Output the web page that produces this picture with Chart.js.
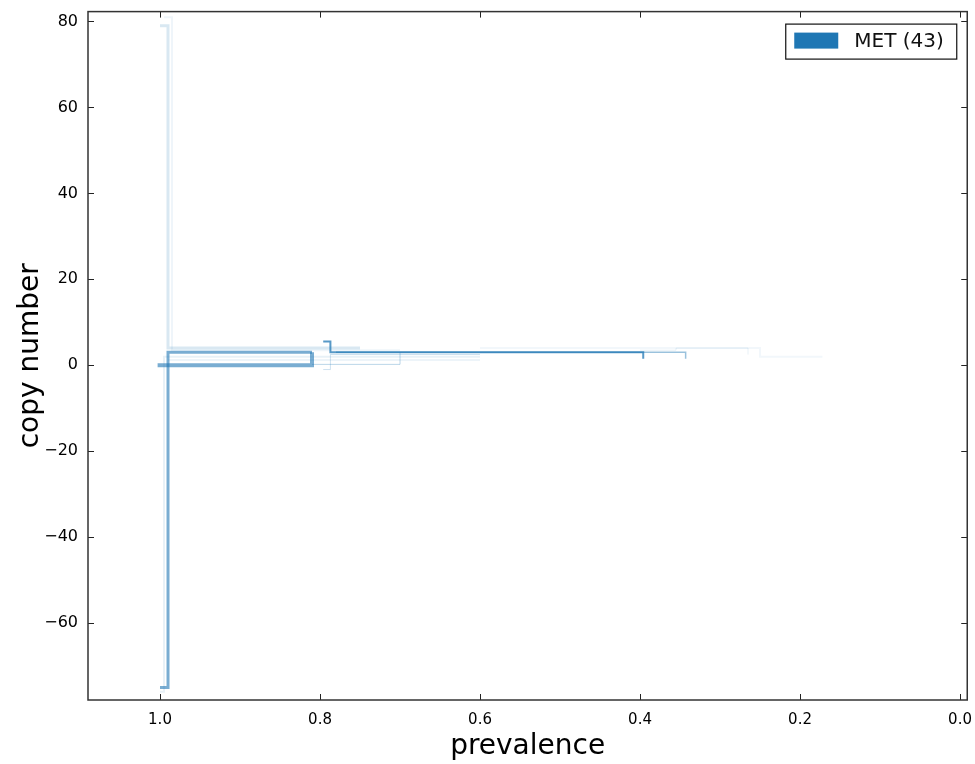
<!DOCTYPE html>
<html>
<head>
<meta charset="utf-8">
<script src="https://cdn.jsdelivr.net/npm/chart.js@4.4.1/dist/chart.umd.min.js"></script>
<style>
  html, body { margin: 0; padding: 0; background: #fff; }
</style>
</head>
<body>
<canvas id="chart" width="975" height="764"></canvas>
<script>
// prevalence (x) / copy number (y) step traces for the MET clones
const prev1 = [1.003, 0.81];        const cn1 = [0, 3];
const prev2 = [1.0, 0.99, 0.81];    const cn2 = [-75, 3, 3];
const prev3 = [0.796, 0.787, 0.396]; const cn3 = [5.5, 3, 1.5];
const prev4 = [0.78, 0.343];        const cn4 = [3, 1.5];
const prev5 = [1.0, 0.99, 0.75];    const cn5 = [79, 4, 4];
const prev6 = [0.995, 0.985, 0.7];  const cn6 = [81, 3.5, 3.5];
const prev7 = [1.0, 0.995, 0.6];    const cn7 = [-76, 2, 2];
const prev8 = [0.81, 0.70];         const cn8 = [0.2, 3];
const prev9 = [0.796, 0.787, 0.6];  const cn9 = [-1, 2.5, 2.5];
const prev10 = [0.6, 0.25, 0.172];  const cn10 = [4, 2, 2];
const prev11 = [0.4, 0.355, 0.265]; const cn11 = [3.5, 4, 2.5];
const prev12 = [0.99, 0.6];         const cn12 = [1.2, 1.2];

const xTicks = [1.0, 0.8, 0.6, 0.4, 0.2, 0.0];
const yTicks = [-60, -40, -20, 0, 20, 40, 60, 80];
const legendLabel = "MET (43)";

const traces = [
  [prev1, cn1, 0.6, 4], [prev2, cn2, 0.6, 3], [prev3, cn3, 0.75, 2],
  [prev4, cn4, 0.45, 1.5], [prev5, cn5, 0.17, 3], [prev6, cn6, 0.07, 2],
  [prev7, cn7, 0.1, 2], [prev8, cn8, 0.3, 1], [prev9, cn9, 0.22, 1],
  [prev10, cn10, 0.06, 2], [prev11, cn11, 0.1, 1], [prev12, cn12, 0.08, 2],
];

const datasets = traces.map(([xs, ys, alpha, width]) => ({
  data: xs.map((x, i) => ({ x: x, y: ys[i] })),
  showLine: true,
  stepped: "before", // horizontal first, then the jump
  borderColor: `rgba(31, 119, 180, ${alpha})`,
  borderWidth: width,
  pointRadius: 0,
  fill: false,
}));

// frame, inward ticks and the legend box
const framePlugin = {
  id: "frame",
  afterDraw(chart) {
    const ctx = chart.ctx;
    const a = chart.chartArea;
    const xs = chart.scales.x, ys = chart.scales.y;
    ctx.save();
    ctx.strokeStyle = "#222";
    ctx.lineWidth = 1;
    xTicks.forEach((v) => {
      const px = Math.round(xs.getPixelForValue(v)) + 0.5;
      ctx.beginPath();
      ctx.moveTo(px, a.bottom); ctx.lineTo(px, a.bottom - 6);
      ctx.moveTo(px, a.top); ctx.lineTo(px, a.top + 6);
      ctx.stroke();
    });
    yTicks.forEach((v) => {
      const py = Math.round(ys.getPixelForValue(v)) + 0.5;
      ctx.beginPath();
      ctx.moveTo(a.left, py); ctx.lineTo(a.left + 6, py);
      ctx.moveTo(a.right, py); ctx.lineTo(a.right - 6, py);
      ctx.stroke();
    });
    ctx.lineWidth = 1.5;
    ctx.strokeStyle = "#333";
    ctx.strokeRect(a.left, a.top, a.right - a.left, a.bottom - a.top);

    // legend
    const bx = a.right - 182, by = a.top + 12, bw = 171, bh = 35;
    ctx.fillStyle = "#fff";
    ctx.fillRect(bx, by, bw, bh);
    ctx.lineWidth = 1.2;
    ctx.strokeStyle = "#111";
    ctx.strokeRect(bx + 0.5, by + 0.5, bw, bh);
    ctx.fillStyle = "#1f77b4";
    ctx.fillRect(bx + 9, by + 9, 44, 16);
    ctx.fillStyle = "#111";
    ctx.font = "20px 'DejaVu Sans'";
    ctx.textBaseline = "middle";
    ctx.textAlign = "left";
    ctx.fillText(legendLabel, bx + 69, by + 18.5);
    ctx.restore();
  },
};

new Chart(document.getElementById("chart"), {
  type: "scatter",
  data: { datasets: datasets },
  options: {
    responsive: false,
    animation: false,
    devicePixelRatio: 1,
    layout: { padding: { left: 0, right: 3, top: 3, bottom: 0 } },
    plugins: { legend: { display: false }, tooltip: { enabled: false } },
    scales: {
      x: {
        type: "linear",
        reverse: true,
        min: -0.009,
        max: 1.09,
        grid: { display: false },
        border: { display: false },
        afterBuildTicks: (scale) => { scale.ticks = xTicks.map((v) => ({ value: v })); },
        afterFit: (scale) => { scale.height = 64; },
        ticks: {
          color: "#000",
          padding: 3,
          maxRotation: 0,
          font: { family: "DejaVu Sans", size: 15 },
          callback: (v) => v.toFixed(1),
        },
        title: {
          display: true,
          text: "prevalence",
          color: "#000",
          font: { family: "DejaVu Sans", size: 28, lineHeight: 0.95 },
        },
      },
      y: {
        type: "linear",
        min: -77.9,
        max: 82.3,
        grid: { display: false },
        border: { display: false },
        afterBuildTicks: (scale) => { scale.ticks = yTicks.map((v) => ({ value: v })); },
        afterFit: (scale) => { scale.width = 88; },
        ticks: {
          color: "#000",
          padding: 2,
          font: { family: "DejaVu Sans", size: 16 },
          callback: (v) => (v < 0 ? "\u2212" + Math.abs(v) : String(v)),
        },
        title: {
          display: true,
          text: "copy number",
          color: "#000",
          font: { family: "DejaVu Sans", size: 28, lineHeight: 1.9 },
        },
      },
    },
  },
  plugins: [framePlugin],
});
</script>
</body>
</html>
